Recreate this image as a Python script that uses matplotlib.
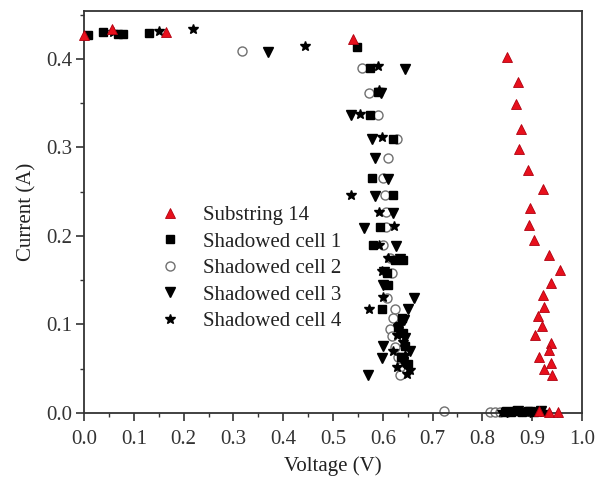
import matplotlib
matplotlib.use("Agg")
import matplotlib.pyplot as plt
from matplotlib.ticker import MultipleLocator

plt.rcParams['font.family'] = ['Liberation Serif', 'DejaVu Serif']

# Substring 14 (red up-triangles)
sub_v = [0.000, 0.056, 0.165, 0.540, 0.849, 0.872, 0.867, 0.878, 0.874, 0.892, 0.921, 0.896,
         0.894, 0.904, 0.934, 0.956, 0.938, 0.921, 0.924, 0.912, 0.919, 0.906, 0.938, 0.934,
         0.914, 0.938, 0.924, 0.940, 0.914, 0.934, 0.952]
sub_i = [0.427, 0.434, 0.430, 0.422, 0.402, 0.374, 0.349, 0.321, 0.298, 0.274, 0.253, 0.232,
         0.212, 0.195, 0.178, 0.161, 0.147, 0.133, 0.120, 0.109, 0.098, 0.088, 0.079, 0.071,
         0.063, 0.057, 0.050, 0.043, 0.002, 0.001, 0.001]

# Shadowed cell 1 (squares)
c1_v = [0.009, 0.039, 0.069, 0.079, 0.131, 0.548, 0.574, 0.591, 0.574, 0.620, 0.578, 0.621,
        0.594, 0.580, 0.624, 0.640, 0.609, 0.611, 0.598, 0.638, 0.631, 0.641, 0.645, 0.637,
        0.650, 0.845, 0.857, 0.868, 0.880, 0.892, 0.903, 0.915]
c1_i = [0.427, 0.430, 0.428, 0.428, 0.429, 0.413, 0.390, 0.363, 0.337, 0.310, 0.265, 0.246,
        0.210, 0.190, 0.173, 0.173, 0.158, 0.145, 0.118, 0.107, 0.097, 0.090, 0.076, 0.063,
        0.055, 0.001, 0.001, 0.002, 0.001, 0.002, 0.001, 0.002]

# Shadowed cell 2 (open circles)
c2_v = [0.317, 0.558, 0.573, 0.591, 0.628, 0.611, 0.600, 0.604, 0.606, 0.606, 0.600, 0.614,
        0.618, 0.609, 0.624, 0.621, 0.614, 0.618, 0.624, 0.630, 0.635, 0.635, 0.722, 0.815,
        0.825, 0.835]
c2_i = [0.409, 0.390, 0.361, 0.337, 0.310, 0.288, 0.265, 0.246, 0.227, 0.210, 0.190, 0.175,
        0.158, 0.130, 0.118, 0.107, 0.095, 0.087, 0.075, 0.063, 0.052, 0.043, 0.002, 0.001,
        0.001, 0.001]

# Shadowed cell 3 (down-triangles)
c3_v = [0.370, 0.645, 0.596, 0.537, 0.578, 0.584, 0.610, 0.584, 0.621, 0.562, 0.627, 0.635,
        0.602, 0.600, 0.663, 0.651, 0.643, 0.630, 0.645, 0.601, 0.655, 0.598, 0.640, 0.571,
        0.850, 0.872, 0.895, 0.918]
c3_i = [0.408, 0.388, 0.361, 0.337, 0.310, 0.288, 0.264, 0.245, 0.226, 0.209, 0.189, 0.174,
        0.159, 0.145, 0.130, 0.117, 0.105, 0.095, 0.085, 0.076, 0.070, 0.062, 0.058, 0.043,
        0.001, 0.002, 0.001, 0.002]

# Shadowed cell 4 (stars)
c4_v = [0.058, 0.151, 0.218, 0.444, 0.591, 0.593, 0.554, 0.598, 0.536, 0.593, 0.622, 0.593,
        0.611, 0.598, 0.601, 0.573, 0.635, 0.628, 0.640, 0.620, 0.645, 0.628, 0.655, 0.648,
        0.840, 0.862, 0.885, 0.910, 0.922]
c4_i = [0.430, 0.431, 0.434, 0.415, 0.392, 0.365, 0.338, 0.312, 0.246, 0.227, 0.211, 0.190,
        0.175, 0.160, 0.131, 0.118, 0.100, 0.088, 0.080, 0.070, 0.065, 0.052, 0.048, 0.044,
        0.001, 0.002, 0.001, 0.002, 0.001]

labels = ["Substring 14", "Shadowed cell 1", "Shadowed cell 2", "Shadowed cell 3", "Shadowed cell 4"]

fig = plt.figure(figsize=(6.07, 4.79), dpi=100)
ax = fig.add_axes([0.1384, 0.1378, 0.8204, 0.8392])

ax.plot(c1_v, c1_i, ls='none', marker='s', ms=5.2, color='black', clip_on=False, label=labels[1], zorder=3)
ax.plot(c2_v, c2_i, ls='none', marker='o', ms=6.5, mfc='white', mec='#707070', mew=1.0, clip_on=False, label=labels[2], zorder=2)
ax.plot(c3_v, c3_i, ls='none', marker='v', ms=7.5, color='black', clip_on=False, label=labels[3], zorder=3)
ax.plot(c4_v, c4_i, ls='none', marker='*', ms=7.5, color='black', clip_on=False, label=labels[4], zorder=3)
ax.plot(sub_v, sub_i, ls='none', marker='^', ms=7.5, mfc='#e8101c', mec='#b00010', mew=0.6, clip_on=False, label=labels[0], zorder=4)

ax.set_xlim(0, 1.0)
ax.set_ylim(0, 0.454)
ax.xaxis.set_major_locator(MultipleLocator(0.1))
ax.xaxis.set_minor_locator(MultipleLocator(0.05))
ax.yaxis.set_major_locator(MultipleLocator(0.1))
ax.yaxis.set_minor_locator(MultipleLocator(0.05))
ax.xaxis.set_major_formatter(matplotlib.ticker.FormatStrFormatter('%.1f'))
ax.yaxis.set_major_formatter(matplotlib.ticker.FormatStrFormatter('%.1f'))

for s in ax.spines.values():
    s.set_linewidth(1.3)
    s.set_color('#333333')
ax.tick_params(which='major', direction='out', length=5.5, width=1.2, color='#333333',
               labelsize=15, labelcolor='#333333', pad=3, top=False, right=False)
ax.tick_params(axis='x', which='major', pad=7)
ax.tick_params(which='minor', direction='out', length=3, width=1.0, color='#333333',
               top=False, right=False)

ax.set_xlabel("Voltage (V)", fontsize=15, color='#222222', labelpad=5)
ax.set_ylabel("Current (A)", fontsize=15, color='#222222', labelpad=7)

h, l = ax.get_legend_handles_labels()
order = [4, 0, 1, 2, 3]
ax.legend([h[i] for i in order], [l[i] for i in order], loc='upper left',
          bbox_to_anchor=(0.152, 0.516), frameon=False, fontsize=15,
          handlelength=1.0, handletextpad=1.1, labelspacing=0.33,
          borderpad=0, borderaxespad=0, labelcolor='#222222')

fig.savefig("out.png", dpi=100)
